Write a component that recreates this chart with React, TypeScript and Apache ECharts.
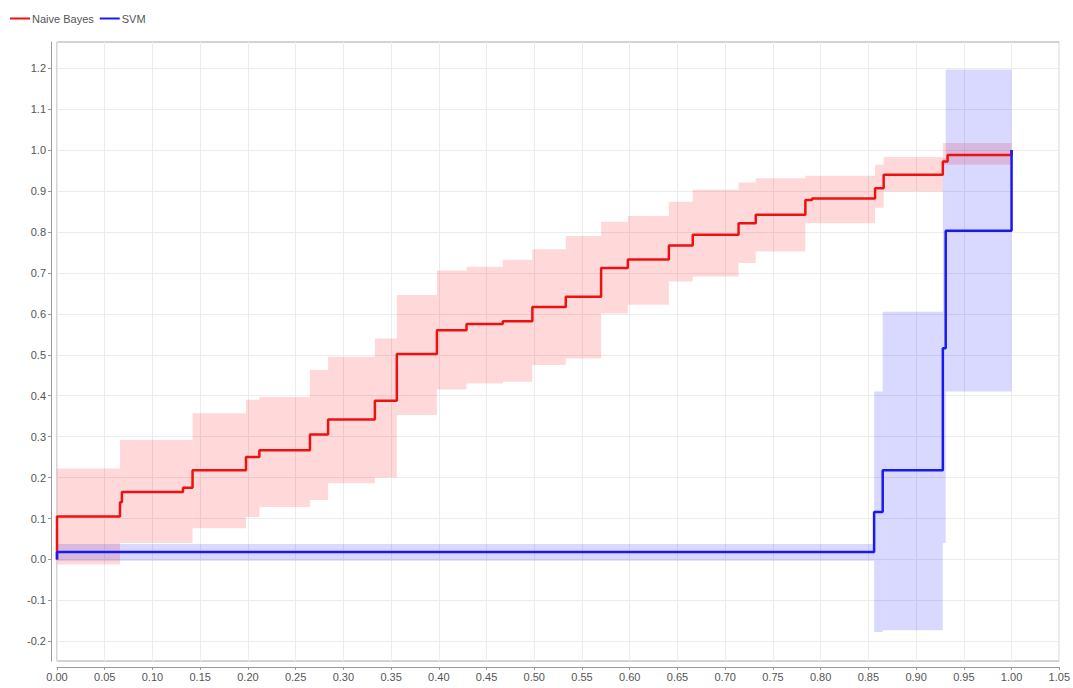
import React, { useEffect, useRef } from "react";
import * as echarts from "echarts";

const seriesNames = ["Naive Bayes", "SVM"];

// Naive Bayes step line (value holds from x until the next x)
const nbX = [0, 0, 0.066, 0.068, 0.132, 0.142, 0.198, 0.212, 0.265, 0.284, 0.333, 0.356, 0.398, 0.429, 0.467, 0.498, 0.533, 0.57, 0.598, 0.641, 0.666, 0.714, 0.732, 0.784, 0.791, 0.857, 0.866, 0.928, 0.933, 1.0];
const nbY = [0, 0.105, 0.14, 0.165, 0.175, 0.218, 0.25, 0.267, 0.305, 0.342, 0.388, 0.502, 0.56, 0.575, 0.582, 0.617, 0.642, 0.712, 0.733, 0.767, 0.793, 0.821, 0.842, 0.878, 0.882, 0.907, 0.94, 0.972, 0.988, 1.0];

// Naive Bayes confidence band segments
const nbBandStart = [0, 0.066, 0.142, 0.198, 0.212, 0.265, 0.284, 0.333, 0.356, 0.398, 0.429, 0.467, 0.498, 0.533, 0.57, 0.598, 0.641, 0.666, 0.714, 0.732, 0.784, 0.857, 0.866, 0.928];
const nbBandEnd = [0.066, 0.142, 0.198, 0.212, 0.265, 0.284, 0.333, 0.356, 0.398, 0.429, 0.467, 0.498, 0.533, 0.57, 0.598, 0.641, 0.666, 0.714, 0.732, 0.784, 0.857, 0.866, 0.928, 1.0];
const nbBandLow = [-0.012, 0.04, 0.076, 0.104, 0.128, 0.145, 0.186, 0.2, 0.353, 0.415, 0.43, 0.434, 0.475, 0.491, 0.601, 0.622, 0.679, 0.691, 0.724, 0.752, 0.821, 0.859, 0.899, 0.964];
const nbBandHigh = [0.222, 0.292, 0.357, 0.39, 0.397, 0.463, 0.495, 0.54, 0.646, 0.706, 0.715, 0.732, 0.758, 0.79, 0.825, 0.839, 0.874, 0.903, 0.921, 0.931, 0.937, 0.964, 0.983, 1.017];

// SVM step line
const svmX = [0, 0, 0.856, 0.865, 0.928, 0.931, 1.0];
const svmY = [0, 0.018, 0.116, 0.218, 0.516, 0.803, 1.0];

// SVM confidence band segments
const svmBandStart = [0, 0.856, 0.865, 0.928, 0.931];
const svmBandEnd = [0.856, 0.865, 0.928, 0.931, 1.0];
const svmBandLow = [-0.003, -0.177, -0.173, 0.04, 0.41];
const svmBandHigh = [0.038, 0.41, 0.605, 0.98, 1.197];

const yTickValues = [-0.2, -0.1, 0, 0.1, 0.2, 0.3, 0.4, 0.5, 0.6, 0.7, 0.8, 0.9, 1.0, 1.1, 1.2];

const zip2 = (a: number[], b: number[]) => a.map((v, i) => [v, b[i]]);
const zip4 = (a: number[], b: number[], c: number[], d: number[]) =>
  a.map((v, i) => [v, b[i], c[i], d[i]]);

const bandRenderer = (fill: string) => (params: any, api: any) => {
  const x0 = api.value(0);
  const x1 = api.value(1);
  const lo = api.value(2);
  const hi = api.value(3);
  const p0 = api.coord([x0, hi]);
  const p1 = api.coord([x1, lo]);
  return {
    type: "rect",
    shape: { x: p0[0], y: p0[1], width: p1[0] - p0[0], height: p1[1] - p0[1] },
    style: { fill },
  };
};

const FONT = "'Liberation Sans', Arial, sans-serif";

export default function App() {
  const ref = useRef<HTMLDivElement>(null);
  useEffect(() => {
    if (!ref.current) return;
    const chart = echarts.init(ref.current, undefined, { renderer: "svg" });
    chart.setOption({
      animation: false,
      backgroundColor: "#ffffff",
      textStyle: { fontFamily: FONT },
      legend: {
        data: seriesNames,
        left: 5,
        top: 8,
        icon: "rect",
        itemWidth: 20,
        itemHeight: 2,
        itemGap: 6,
        textStyle: { fontSize: 11, color: "#555", fontFamily: FONT, padding: [0, 0, 0, -3] },
      },
      grid: {
        left: 57,
        right: 13,
        top: 42,
        bottom: 27,
        show: true,
        borderColor: "#a8a8a8",
        borderWidth: 1,
        backgroundColor: "transparent",
      },
      xAxis: {
        type: "value",
        min: 0,
        max: 1.05,
        interval: 0.05,
        offset: 6,
        axisLine: { show: true, onZero: false, lineStyle: { color: "#999" } },
        axisTick: { show: true, length: 3, lineStyle: { color: "#999" } },
        axisLabel: {
          color: "#555",
          fontSize: 11,
          fontFamily: FONT,
          margin: 4,
          formatter: (v: number) => v.toFixed(2),
        },
        splitLine: { show: true, lineStyle: { color: "#ececec", width: 1 } },
      },
      yAxis: {
        type: "value",
        min: -0.248,
        max: 1.264,
        offset: 6,
        axisLine: { show: true, onZero: false, lineStyle: { color: "#999" } },
        axisTick: { show: true, length: 3, lineStyle: { color: "#999" }, customValues: yTickValues },
        axisLabel: {
          color: "#555",
          fontSize: 11,
          fontFamily: FONT,
          margin: 5,
          customValues: yTickValues,
          formatter: (v: number) => v.toFixed(1),
        },
        splitLine: { show: true, lineStyle: { color: "#ececec", width: 1 } },
      },
      series: [
        {
          name: "Naive Bayes band",
          type: "custom",
          renderItem: bandRenderer("rgba(255,0,0,0.15)"),
          encode: { x: [0, 1], y: [2, 3] },
          data: zip4(nbBandStart, nbBandEnd, nbBandLow, nbBandHigh),
          z: 1,
          silent: true,
        },
        {
          name: "SVM band",
          type: "custom",
          renderItem: bandRenderer("rgba(0,0,255,0.15)"),
          encode: { x: [0, 1], y: [2, 3] },
          data: zip4(svmBandStart, svmBandEnd, svmBandLow, svmBandHigh),
          z: 1,
          silent: true,
        },
        {
          name: seriesNames[0],
          type: "line",
          step: "end",
          showSymbol: false,
          symbol: "none",
          color: "#ee1111",
          lineStyle: { color: "#ee1111", width: 2.5 },
          data: zip2(nbX, nbY),
          z: 3,
        },
        {
          name: seriesNames[1],
          type: "line",
          step: "end",
          showSymbol: false,
          symbol: "none",
          color: "#1a1aee",
          lineStyle: { color: "#1a1aee", width: 2.5 },
          data: zip2(svmX, svmY),
          z: 3,
        },
      ],
    });
    return () => chart.dispose();
  }, []);
  return (
    <div
      ref={ref}
      style={{ position: "fixed", left: 0, top: 0, width: 1073, height: 688, background: "#fff" }}
    />
  );
}
